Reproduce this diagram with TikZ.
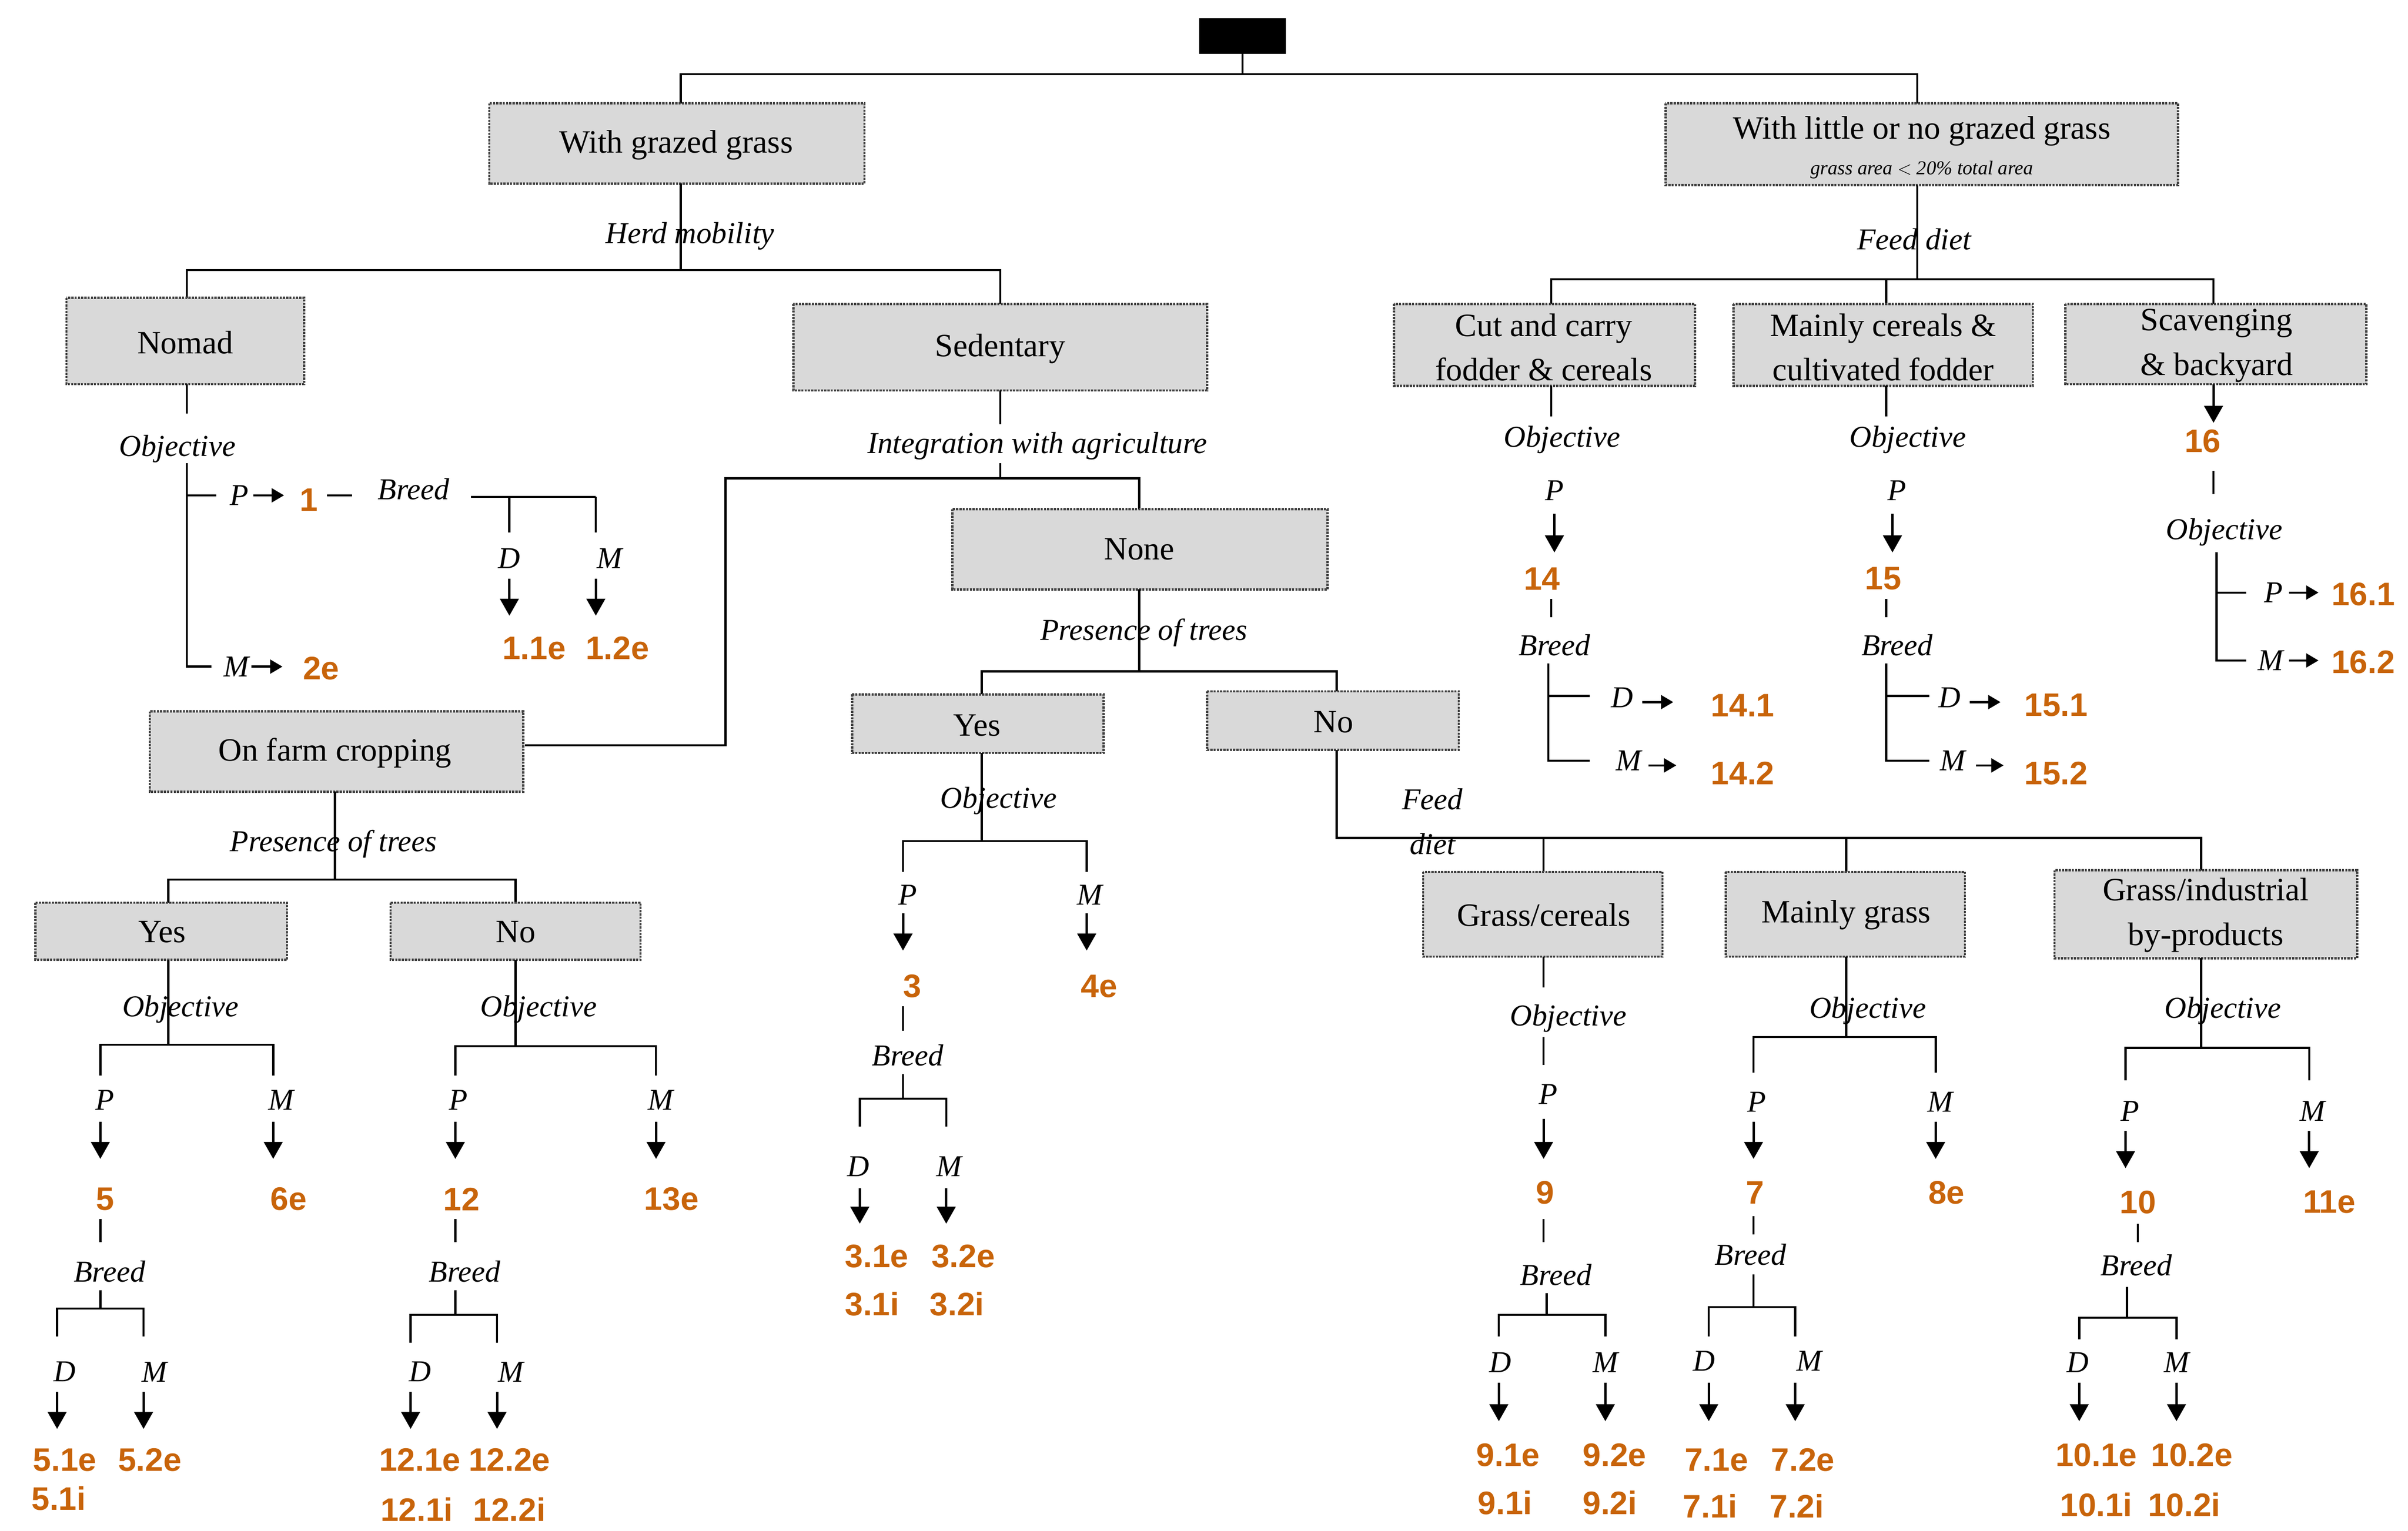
\documentclass[tikz,border=0pt]{standalone}
\usepackage{fontspec}
\setmainfont{Liberation Serif}
\newfontfamily\numfont{Liberation Sans}
\usetikzlibrary{arrows.meta}
\definecolor{org}{RGB}{200,100,10}
\definecolor{boxg}{RGB}{217,217,217}
\begin{document}
\begin{tikzpicture}[x=0.05cm,y=-0.05cm,line width=2pt,
 box/.style={draw=black!75,densely dotted,fill=boxg,line width=2pt},
 txt/.style={font=\fontsize{30}{41}\selectfont,align=center,inner sep=0},
 lab/.style={font=\fontsize{28}{32}\selectfont\itshape,inner sep=0},
 num/.style={font=\fontsize{30}{34}\selectfont\numfont\bfseries,text=org,inner sep=0},
 arr/.style={-{Triangle[length=0.55cm,width=0.6cm]},line width=2.2pt},
 harr/.style={-{Triangle[length=0.4cm,width=0.45cm]},line width=2pt}]
\useasboundingbox (0,0) rectangle (1560,992);
\newcommand\bx[5]{\draw[box] (#2) rectangle (#3); \node[txt] (#1) at (#4) {#5};}
\newcommand\lb[3]{\node[lab] (#1) at (#2) {#3};}
\newcommand\nm[3]{\node[num] (#1) at (#2) {#3};}
\newcommand\dar[3]{\draw[arr] (#1,#2) -- (#1,#3);}
\newcommand\har[3]{\draw[harr] (#1,#3) -- (#2,#3);}
% top
\fill (777,12) rectangle (833,35);
\coordinate (top) at (805,35);
\draw (top) -- (805,48); \draw (441,67) -- (441,48) -- (1242,48) -- (1242,67);
\bx{wgg}{317,67}{560,119}{438,94}{With grazed grass}
\draw[box] (1079,67) rectangle (1411,120);
\node[txt] (wlg) at (1245,85) {With little or no grazed grass};
\node[lab,font=\fontsize{18}{20}\selectfont\itshape] (wlgs) at (1245,110) {grass area $<$ 20\% total area};
% left main
\draw (441,119) -- (441,175); \lb{hm}{447,153}{Herd mobility}
\draw (121,193) -- (121,175) -- (648,175) -- (648,197);
\bx{nomad}{43,193}{197,249}{120,222}{Nomad}
\bx{sed}{514,197}{782,253}{648,226}{Sedentary}
% Nomad
\draw (121,249) -- (121,268); \lb{no1}{115,291}{Objective}
\draw (121,300) -- (121,432) -- (137,432); \draw (121,321) -- (140,321);
\lb{np}{155,321}{P} \har{164}{184}{321} \nm{n1}{200,324}{1}
\draw (212,321) -- (228,321); \lb{nb}{268,317}{Breed}
\draw (305,322) -- (386,322); \draw (330,322) -- (330,345); \draw (386,322) -- (386,345);
\lb{nd}{330,362}{D} \lb{nmm}{395,362}{M}
\dar{330}{375}{399} \dar{386}{375}{399}
\nm{n11}{346,420}{1.1e} \nm{n12}{400,420}{1.2e}
\lb{nm2}{153,432}{M} \har{163}{183}{432} \nm{n2}{208,433}{2e}
% Sedentary
\draw (648,253) -- (648,275); \lb{iwa}{672,289}{Integration with agriculture}
\draw (648,300) -- (648,310); \draw (340,483) -- (470,483) -- (470,310) -- (738,310) -- (738,330);
\bx{none}{617,330}{860,382}{738,356}{None}
\bx{ofc}{97,461}{339,513}{217,488}{On farm cropping}
% None
\draw (738,382) -- (738,435); \lb{pt1}{741,410}{Presence of trees}
\draw (636,450) -- (636,435) -- (866,435) -- (866,448);
\bx{yes1}{552,450}{715,488}{633,470}{Yes}
\bx{no1b}{782,448}{945,486}{864,468}{No}
% middle Yes
\draw (636,488) -- (636,545); \lb{mo}{647,519}{Objective}
\draw (585,565) -- (585,545) -- (704,545) -- (704,565);
\lb{mp}{588,580}{P} \lb{mm}{706,580}{M}
\dar{585}{592}{616} \dar{704}{592}{616}
\nm{m3}{591,639}{3} \nm{m4}{712,639}{4e}
\draw (585,652) -- (585,668); \lb{mb}{588,684}{Breed}
\draw (585,696) -- (585,712); \draw (557,730) -- (557,712) -- (613,712) -- (613,730);
\lb{md}{556,756}{D} \lb{mmm}{615,756}{M}
\dar{557}{770}{793} \dar{613}{770}{793}
\nm{m31e}{568,814}{3.1e} \nm{m32e}{624,814}{3.2e}
\nm{m31i}{565,845}{3.1i} \nm{m32i}{620,845}{3.2i}
% On farm cropping
\draw (217,513) -- (217,570); \lb{pt2}{216,547}{Presence of trees}
\draw (109,585) -- (109,570) -- (334,570) -- (334,585);
\bx{yes2}{23,585}{186,622}{105,604}{Yes}
\bx{no2}{253,585}{415,622}{334,604}{No}
% left Yes
\draw (109,622) -- (109,677); \lb{lo}{117,654}{Objective}
\draw (65,697) -- (65,677) -- (177,677) -- (177,697);
\lb{lp}{68,713}{P} \lb{lm}{182,713}{M}
\dar{65}{727}{751} \dar{177}{727}{751}
\nm{l5}{68,777}{5} \nm{l6}{187,777}{6e}
\draw (65,790) -- (65,805); \lb{lb}{71,824}{Breed}
\draw (65,836) -- (65,848); \draw (37,866) -- (37,848) -- (93,848) -- (93,866);
\lb{ld}{42,889}{D} \lb{lmm}{100,889}{M}
\dar{37}{902}{926} \dar{93}{902}{926}
\nm{l51e}{42,946}{5.1e} \nm{l52e}{97,946}{5.2e} \nm{l51i}{38,971}{5.1i}
% left No
\draw (334,622) -- (334,678); \lb{ro}{349,654}{Objective}
\draw (295,697) -- (295,678) -- (425,678) -- (425,697);
\lb{rp}{297,713}{P} \lb{rm}{428,713}{M}
\dar{295}{727}{751} \dar{425}{727}{751}
\nm{r12}{299,777}{12} \nm{r13}{435,777}{13e}
\draw (295,790) -- (295,805); \lb{rb}{301,824}{Breed}
\draw (295,836) -- (295,852); \draw (266,870) -- (266,852) -- (322,852) -- (322,870);
\lb{rd}{272,889}{D} \lb{rmm}{331,889}{M}
\dar{266}{902}{926} \dar{322}{902}{926}
\nm{r121e}{272,946}{12.1e} \nm{r122e}{330,946}{12.2e}
\nm{r121i}{270,978}{12.1i} \nm{r122i}{330,978}{12.2i}
% middle No -> feed diet
\draw (866,486) -- (866,543) -- (1426,543) -- (1426,564);
\draw (1000,543) -- (1000,565); \draw (1196,543) -- (1196,565);
\lb{fd1}{928,518}{Feed} \lb{fd2}{928,547}{diet}
\bx{gc}{922,565}{1077,620}{1000,593}{Grass/cereals}
\bx{mg}{1118,565}{1273,620}{1196,593}{Mainly grass}
\bx{gi}{1331,564}{1527,621}{1429,593}{Grass/industrial\\by-products}
% grass/cereals
\draw (1000,620) -- (1000,640); \lb{go}{1016,660}{Objective}
\draw (1000,672) -- (1000,690); \lb{gp}{1003,709}{P}
\dar{1000}{725}{751} \nm{g9}{1001,773}{9}
\draw (1000,790) -- (1000,805); \lb{gb}{1008,826}{Breed}
\draw (1002,838) -- (1002,852); \draw (971,866) -- (971,852) -- (1040,852) -- (1040,866);
\lb{gd}{972,883}{D} \lb{gmm}{1040,883}{M}
\dar{971}{896}{921} \dar{1040}{896}{921}
\nm{g91e}{977,943}{9.1e} \nm{g92e}{1046,943}{9.2e}
\nm{g91i}{975,974}{9.1i} \nm{g92i}{1043,974}{9.2i}
% mainly grass
\draw (1196,620) -- (1196,672); \lb{ko}{1210,655}{Objective}
\draw (1136,695) -- (1136,672) -- (1254,672) -- (1254,695);
\lb{kp}{1138,714}{P} \lb{km}{1257,714}{M}
\dar{1136}{727}{751} \dar{1254}{727}{751}
\nm{k7}{1137,773}{7} \nm{k8}{1261,773}{8e}
\draw (1136,788) -- (1136,800); \lb{kb}{1134,813}{Breed}
\draw (1136,826) -- (1136,847); \draw (1107,866) -- (1107,847) -- (1163,847) -- (1163,866);
\lb{kd}{1104,882}{D} \lb{kmm}{1172,882}{M}
\dar{1107}{896}{921} \dar{1163}{896}{921}
\nm{k71e}{1112,946}{7.1e} \nm{k72e}{1168,946}{7.2e}
\nm{k71i}{1108,976}{7.1i} \nm{k72i}{1164,976}{7.2i}
% grass/industrial
\draw (1426,621) -- (1426,679); \lb{io}{1440,655}{Objective}
\draw (1377,700) -- (1377,679) -- (1496,679) -- (1496,700);
\lb{ip}{1380,720}{P} \lb{im}{1498,720}{M}
\dar{1377}{733}{757} \dar{1496}{733}{757}
\nm{i10}{1385,779}{10} \nm{i11}{1509,779}{11e}
\draw (1385,793) -- (1385,805); \lb{ib}{1384,820}{Breed}
\draw (1378,834) -- (1378,854); \draw (1347,868) -- (1347,854) -- (1410,854) -- (1410,868);
\lb{id}{1346,883}{D} \lb{imm}{1410,883}{M}
\dar{1347}{896}{921} \dar{1410}{896}{921}
\nm{i101e}{1358,943}{10.1e} \nm{i102e}{1420,943}{10.2e}
\nm{i101i}{1358,975}{10.1i} \nm{i102i}{1415,975}{10.2i}
% right main
\draw (1242,120) -- (1242,181); \lb{fdr}{1240,155}{Feed diet}
\draw (1005,197) -- (1005,181) -- (1434,181) -- (1434,197); \draw (1222,181) -- (1222,197);
\bx{cc}{903,197}{1098,250}{1000,225}{Cut and carry\\fodder \& cereals}
\bx{mc}{1123,197}{1317,250}{1220,225}{Mainly cereals \&\\cultivated fodder}
\bx{sb}{1338,197}{1533,249}{1436,224}{Scavenging\\\& backyard}
% cut and carry
\draw (1005,250) -- (1005,270); \lb{co}{1012,285}{Objective}
\lb{cp}{1007,318}{P} \dar{1007}{333}{358} \nm{c14}{999,375}{14}
\draw (1005,388) -- (1005,400); \lb{cb}{1007,418}{Breed}
\draw (1003,430) -- (1003,493) -- (1030,493); \draw (1003,451) -- (1030,451);
\lb{cd}{1051,452}{D} \har{1064}{1084}{455} \nm{c141}{1129,457}{14.1}
\lb{cm}{1055,493}{M} \har{1068}{1086}{496} \nm{c142}{1129,501}{14.2}
% mainly cereals
\draw (1222,250) -- (1222,270); \lb{eo}{1236,285}{Objective}
\lb{ep}{1229,318}{P} \dar{1226}{333}{358} \nm{e15}{1220,375}{15}
\draw (1222,388) -- (1222,400); \lb{eb}{1229,418}{Breed}
\draw (1222,430) -- (1222,493) -- (1250,493); \draw (1222,451) -- (1250,451);
\lb{ed}{1263,452}{D} \har{1276}{1296}{455} \nm{e151}{1332,457}{15.1}
\lb{em}{1265,493}{M} \har{1280}{1298}{496} \nm{e152}{1332,501}{15.2}
% scavenging
\dar{1434}{249}{274} \nm{s16}{1427,286}{16}
\draw (1434,305) -- (1434,320); \lb{so}{1441,345}{Objective}
\draw (1436,358) -- (1436,428) -- (1455,428); \draw (1436,384) -- (1455,384);
\lb{sp}{1473,384}{P} \har{1483}{1502}{384} \nm{s161}{1531,385}{16.1}
\lb{sm}{1471,428}{M} \har{1483}{1502}{428} \nm{s162}{1531,429}{16.2}
\end{tikzpicture}
\end{document}
